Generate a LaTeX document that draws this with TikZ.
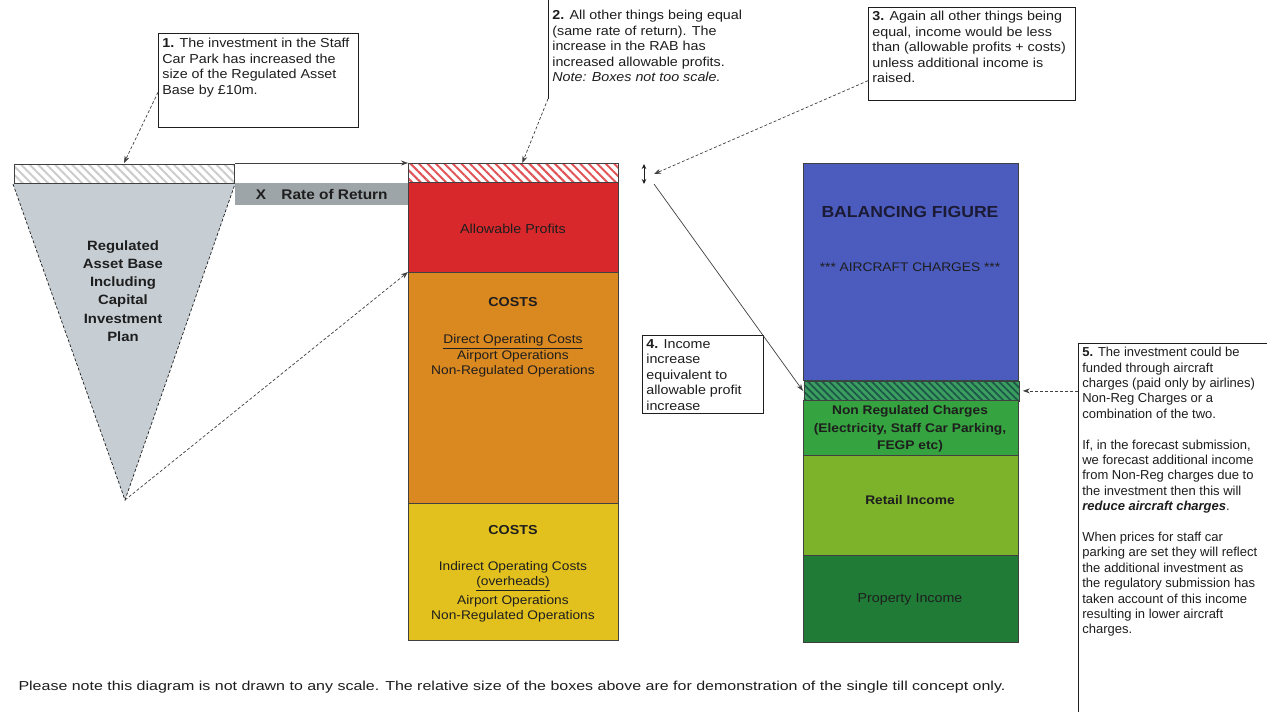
\documentclass[tikz,border=0pt]{standalone}
\usepackage{fontspec}
\setmainfont[FakeStretch=1.1]{Liberation Sans}
\newfontfamily\widefont[FakeStretch=1.23]{Liberation Sans}
\newfontfamily\narrowfont[FakeStretch=1.0]{Liberation Sans}
\usetikzlibrary{arrows.meta,patterns.meta,calc}
\definecolor{ink}{HTML}{1E1E1E}
\definecolor{trifill}{HTML}{C6CED4}
\definecolor{bargray}{HTML}{9EA5A8}
\definecolor{cred}{HTML}{D8282C}
\definecolor{corange}{HTML}{DA8820}
\definecolor{cyellow}{HTML}{E2C11E}
\definecolor{cblue}{HTML}{4B5BBE}
\definecolor{cnonreg}{HTML}{35A33F}
\definecolor{cretail}{HTML}{7CB32B}
\definecolor{cprop}{HTML}{1F7B36}
\definecolor{chatchg}{HTML}{3C9E60}
\definecolor{chatchgl}{HTML}{1C5A48}
\newcommand{\tbox}[3]{\parbox[c][#2][t]{#1}{\raggedright #3}}
\tikzset{
  seg/.style={draw=ink!85, line width=0.6pt, anchor=north west, inner sep=0pt, align=center,
              font=\fontsize{13}{15.5}\selectfont},
  cbox/.style={draw=ink, line width=0.7pt, anchor=north west, inner xsep=4pt, inner ysep=4pt,
              font=\fontsize{13}{15.5}\selectfont, fill=white},
  conn/.style={draw=ink!85, line width=0.7pt, -{Stealth[length=7pt,width=5pt]}},
  lbl/.style={align=center, font=\fontsize{12.5}{15.5}\selectfont},
}
\begin{document}
\begin{tikzpicture}[x=1pt,y=-1pt, every node/.style={text=ink}]
\useasboundingbox (0,0) rectangle (1267,712);
\clip (0,0) rectangle (1267,712);
\fill[white] (0,0) rectangle (1267,712);

% ---------- RAB triangle ----------
\node[seg, minimum width=220, minimum height=19,
      pattern={Lines[angle=-45,distance=6pt,line width=2pt]}, pattern color=gray!40] (band) at (13,163) {};
\coordinate (apex) at (125,500);
\fill[trifill] (band.south west) -- (band.south east) -- (apex) -- cycle;
\draw[densely dashed, ink, line width=0.7pt] (band.south west) -- (apex) -- (band.south east);
\node[align=center, font=\bfseries\fontsize{13.5}{18.3}\selectfont] (rab) at (123,291)
  {Regulated\\Asset Base\\Including\\Capital\\Investment\\Plan};

\node[anchor=north west, fill=bargray, minimum width=173, minimum height=22, inner sep=0pt,
      font=\bfseries\fontsize{14}{16}\selectfont] (ror) at (235,183) {X\hspace{1.1em}Rate of Return};

% ---------- central column ----------
\node[seg, minimum width=210, minimum height=19,
      pattern={Lines[angle=-45,distance=6pt,line width=2pt]}, pattern color=cred!80] (hb) at (408,163) {};
\node[seg, fill=cred, minimum width=210, minimum height=90] (red) at (408,182) {};
\node[lbl, font=\fontsize{13}{15.5}\selectfont] (apl) at (513,229) {Allowable Profits};
\node[seg, fill=corange, minimum width=210, minimum height=231] (orange) at (408,272) {};
\node[seg, fill=cyellow, minimum width=210, minimum height=137] (yellow) at (408,503) {};
\node[lbl, font=\bfseries\fontsize{13}{15.5}\selectfont] (oc) at (513,302) {COSTS};
\node[lbl] (ol) at (513,356) {\underline{Direct Operating Costs}\\Airport Operations\\Non-Regulated Operations};
\node[lbl, font=\bfseries\fontsize{13}{15.5}\selectfont] (yc) at (513,530) {COSTS};
\node[lbl] (yl) at (513,592) {Indirect Operating Costs\\\underline{(overheads)}\\[3pt]Airport Operations\\Non-Regulated Operations};

% ---------- right column ----------
\node[seg, fill=cblue, minimum width=215, minimum height=217] (blue) at (803,163) {};
\node[font=\bfseries\fontsize{16}{18}\selectfont, text=ink!90!blue] (bf) at (910,212) {BALANCING FIGURE};
\node[font=\fontsize{12.5}{15}\selectfont] (ac) at (910,267) {*** AIRCRAFT CHARGES ***};
\node[seg, minimum width=215, minimum height=20, preaction={fill=chatchg},
      pattern={Lines[angle=-45,distance=5pt,line width=1.8pt]}, pattern color=chatchgl] (gh) at (803,380) {};
\node[seg, fill=cnonreg, minimum width=215, minimum height=55] (nonreg) at (803,400) {};
\node[lbl, font=\bfseries\fontsize{12.5}{17.5}\selectfont] (nrl) at (910,429)
  {Non Regulated Charges\\(Electricity, Staff Car Parking,\\FEGP etc)};
\node[seg, fill=cretail, minimum width=215, minimum height=100] (retail) at (803,455) {};
\node[lbl, font=\bfseries\fontsize{12.5}{15}\selectfont] (rl) at (910,500) {Retail Income};
\node[seg, fill=cprop, minimum width=215, minimum height=87] (prop) at (803,555) {};
\node[lbl, font=\fontsize{13}{15}\selectfont] (pl) at (910,599) {Property Income};

% ---------- small double arrow ----------
\coordinate (dt) at (644,164);
\coordinate (db) at (644,184);
\draw[ink, line width=0.9pt, {Stealth[length=5pt,width=4.5pt]}-{Stealth[length=5pt,width=4.5pt]}] (dt) -- (db);
\coordinate (t3) at (654,174);
\coordinate (s4) at (654,184);

% ---------- callouts ----------
\node[cbox, inner ysep=5pt] (c1) at (158,33)
  {\tbox{192pt}{84pt}{\textbf{1.} The investment in the Staff\\Car Park has increased the\\size of the Regulated Asset\\Base by £10m.}};
\node[cbox, draw=none, fill=none, inner ysep=10pt] (c2) at (548,0)
  {\tbox{190pt}{78pt}{\textbf{2.} All other things being equal\\(same rate of return). The\\increase in the RAB has\\increased allowable profits.\\\textit{Note: Boxes not too scale.}}};
\draw[ink, line width=0.7pt] (c2.north west) -- (c2.south west);
\node[cbox] (c3) at (868,7)
  {\tbox{199pt}{85pt}{\textbf{3.} Again all other things being\\equal, income would be less\\than (allowable profits + costs)\\unless additional income is\\raised.}};
\node[cbox] (c4) at (642,335)
  {\tbox{113pt}{70pt}{\textbf{4.} Income\\increase\\equivalent to\\allowable profit\\increase}};
\node[cbox, font=\narrowfont\fontsize{13}{15.4}\selectfont] (c5) at (1078,343)
  {\tbox{200pt}{372pt}{\textbf{5.} The investment could be\\funded through aircraft\\charges (paid only by airlines)\\Non-Reg Charges or a\\combination of the two.\\[15.4pt]
  If, in the forecast submission,\\we forecast additional income\\from Non-Reg charges due to\\the investment then this will\\\textbf{\textit{reduce aircraft charges}}.\\[15.4pt]
  When prices for staff car\\parking are set they will reflect\\the additional investment as\\the regulatory submission has\\taken account of this income\\resulting in lower aircraft\\charges.}};

% ---------- connectors ----------
\draw[conn, densely dashed] ([yshift=-12pt]c1.west) -- (band.north);
\draw[conn] (band.north east) -- (hb.north west);
\draw[conn, densely dashed] (apex) -- (orange.north west);
\draw[conn, densely dashed] (c2.south west) -- ([xshift=9pt]hb.north);
\draw[conn, densely dashed] ([yshift=20pt]c3.south west) -- (t3);
\draw[conn] (s4) -- (gh.west);
\draw[conn, densely dashed, shorten >=3pt] (gh.east -| c5.west) -- (gh.east);

% ---------- note ----------
\node[anchor=west, font=\widefont\fontsize{13}{15}\selectfont] (note) at (15,687)
  {Please note this diagram is not drawn to any scale. The relative size of the boxes above are for demonstration of the single till concept only.};
\end{tikzpicture}
\end{document}
